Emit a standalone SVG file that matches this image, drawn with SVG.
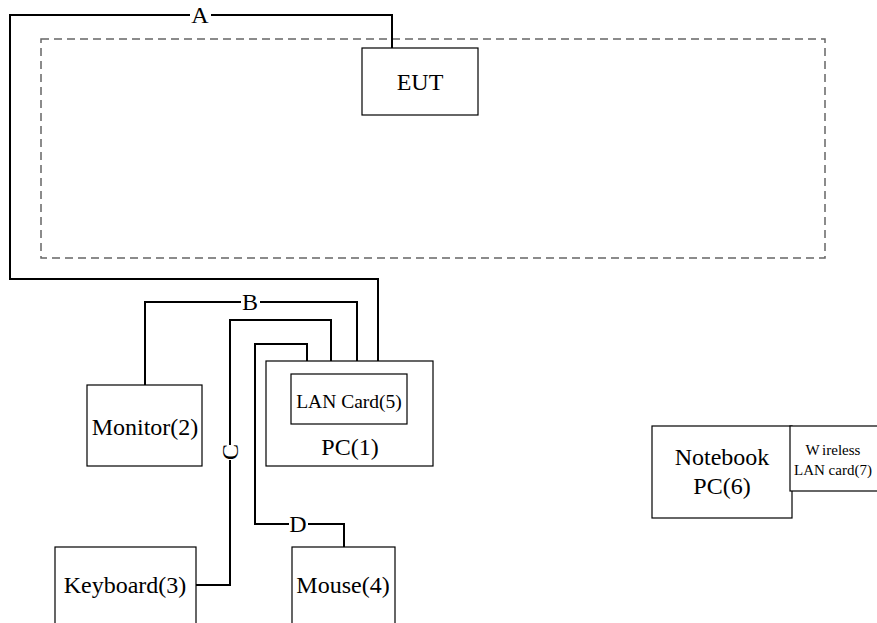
<svg xmlns="http://www.w3.org/2000/svg" width="877" height="623" viewBox="0 0 877 623">
<style>
.box{fill:#fff;stroke:#000;stroke-width:1.2}
.wire{fill:none;stroke:#000;stroke-width:2}
.dash{fill:none;stroke:#666;stroke-width:1.5;stroke-dasharray:8 5}
text{font-family:"Liberation Serif","Times New Roman",serif;fill:#000;text-anchor:middle}
.t{font-size:24px}
.s{font-size:19.5px}
.w{font-size:15px}
</style>
<rect width="877" height="623" fill="#fff"/>
<rect id="area" class="dash" x="41" y="39" width="784" height="219"/>
<g id="connectors">
  <path class="wire" d="M190 15 H10 V279 H378 V374"/>
  <path class="wire" d="M211 15 H392 V48"/>
  <path class="wire" d="M241 302 H145 V385"/>
  <path class="wire" d="M260 302 H357 V361"/>
  <path class="wire" d="M196 585 H230 V460 M230 445 V320 H331 V361"/>
  <path class="wire" d="M289 524 H255 V344 H307 V361"/>
  <path class="wire" d="M308 524 H344 V547"/>
</g>
<g id="labels">
  <text class="t" x="200" y="23">A</text>
  <text class="t" x="250" y="310">B</text>
  <text class="t" transform="translate(238 452) rotate(-90)" x="0" y="0">C</text>
  <text class="t" x="298" y="532">D</text>
</g>
<g id="eut"><rect class="box" x="362" y="48" width="116" height="67"/><text class="t" x="420" y="90">EUT</text></g>
<g id="pc1"><rect class="box" x="266" y="361" width="167" height="105"/><text class="t" x="350" y="455">PC(1)</text></g>
<g id="lan5"><rect class="box" x="291" y="374" width="116" height="50"/><text class="s" x="349" y="408">LAN Card(5)</text></g>
<g id="monitor"><rect class="box" x="87" y="385" width="115" height="81"/><text class="t" x="145" y="435">Monitor(2)</text></g>
<g id="keyboard"><rect class="box" x="55" y="547" width="141" height="90"/><text class="t" x="125" y="593">Keyboard(3)</text></g>
<g id="mouse"><rect class="box" x="292" y="547" width="103" height="90"/><text class="t" x="343" y="593">Mouse(4)</text></g>
<g id="notebook"><rect class="box" x="652" y="426" width="140" height="92"/><text class="t" x="722" y="465">Notebook</text><text class="t" x="722" y="494">PC(6)</text></g>
<g id="wlan"><rect class="box" x="790" y="426" width="95" height="65"/><text class="w" x="833" y="455">W<tspan dx="3">ireless</tspan></text><text class="w" x="833" y="475">LAN card(7)</text></g>
</svg>
